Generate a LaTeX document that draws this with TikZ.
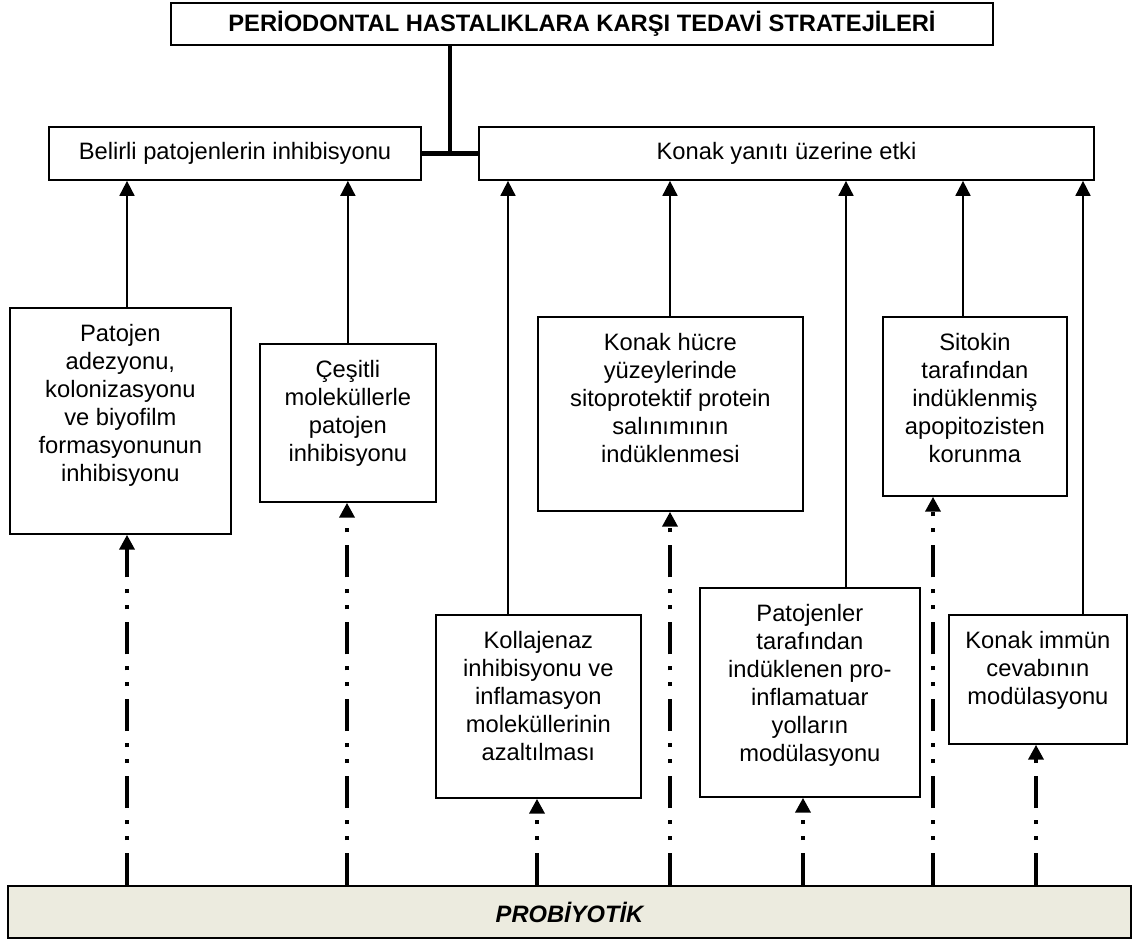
\documentclass[tikz,border=0pt]{standalone}
\usepackage{fontspec}
\setmainfont{Liberation Sans}
\usetikzlibrary{arrows.meta}
\newlength{\pxl}
\setlength{\pxl}{0.02cm}
\definecolor{probfill}{RGB}{236,235,223}
\newcommand{\celltext}[3]{\parbox[c][#2\pxl][t]{#1\pxl}{\centering\rule{0pt}{34\pxl}#3}}

\begin{document}
\begin{tikzpicture}[x=0.02cm, y=-0.02cm,
  block/.style={rectangle, draw, line width=1pt, inner sep=0pt, font=\fontsize{13.5}{15.9}\selectfont},
  cell/.style={block, anchor=north west},
  trunk/.style={line width=2.6pt},
  solidarrow/.style={line width=1pt, -{Triangle[width=8.5pt, length=8.5pt]}},
  probarrow/.style={line width=2.3pt, dash pattern=on 18.2pt off 7.4pt on 2.3pt off 6.8pt on 2.3pt off 6.8pt, -{Triangle[width=8.5pt, length=8.5pt]}}]
  \useasboundingbox (0,0) rectangle (1140,945);

  \node[block, minimum width=16.44cm, minimum height=0.84cm, font=\fontsize{13.5}{15.9}\selectfont\bfseries] (title) at (582,24) {PERİODONTAL HASTALIKLARA KARŞI TEDAVİ STRATEJİLERİ};
  \node[block, minimum width=7.44cm, minimum height=1.06cm] (belirli) at (235,153.5) {Belirli patojenlerin inhibisyonu};
  \node[block, minimum width=12.3cm, minimum height=1.06cm] (konak) at (786.5,153.5) {Konak yanıtı üzerine etki};

  \node[cell] (adezyon) at (9,307) {\celltext{221}{226}{Patojen\\ adezyonu,\\ kolonizasyonu\\ ve biyofilm\\ formasyonunun\\ inhibisyonu}};
  \node[cell] (molekul) at (259,343) {\celltext{176}{158}{Çeşitli\\ moleküllerle\\ patojen\\ inhibisyonu}};
  \node[cell] (sitoprot) at (537,316) {\celltext{265}{194}{Konak hücre\\ yüzeylerinde\\ sitoprotektif protein\\ salınımının\\ indüklenmesi}};
  \node[cell] (apopt) at (882,316) {\celltext{184}{179}{Sitokin\\ tarafından\\ indüklenmiş\\ apopitozisten\\ korunma}};
  \node[cell] (kollajen) at (435,614) {\celltext{205}{183}{Kollajenaz\\ inhibisyonu ve\\ inflamasyon\\ moleküllerinin\\ azaltılması}};
  \node[cell] (proinf) at (699,587) {\celltext{220}{209}{Patojenler\\ tarafından\\ indüklenen pro-\\ inflamatuar\\ yolların\\ modülasyonu}};
  \node[cell] (immun) at (948,614) {\celltext{178}{129}{Konak immün\\ cevabının\\ modülasyonu}};

  \node[block, fill=probfill, minimum width=22.46cm, minimum height=1.04cm, font=\fontsize{13.5}{15.9}\selectfont\bfseries\itshape] (probiyotik) at (569.5,912) {PROBİYOTİK};

  % main stem
  \coordinate (joint) at (450,153.5);
  \draw[trunk] (title.south -| joint) -- (joint);
  \draw[trunk] (belirli.east) -- (konak.west);

  % strategies up to their group
  \draw[solidarrow] (adezyon.north -| 127,0) -- (belirli.south -| 127,0);
  \draw[solidarrow] (molekul.north) -- (belirli.south -| molekul.north);
  \draw[solidarrow] (kollajen.north -| 508,0) -- (konak.south -| 508,0);
  \draw[solidarrow] (sitoprot.north -| 670,0) -- (konak.south -| 670,0);
  \draw[solidarrow] (proinf.north -| 846,0) -- (konak.south -| 846,0);
  \draw[solidarrow] (apopt.north -| 963,0) -- (konak.south -| 963,0);
  \draw[solidarrow] (immun.north -| 1083,0) -- (konak.south -| 1083,0);

  % probiyotik effects
  \draw[probarrow] (probiyotik.north -| 127,0) -- (adezyon.south -| 127,0);
  \draw[probarrow] (probiyotik.north -| 347,0) -- (molekul.south -| 347,0);
  \draw[probarrow] (probiyotik.north -| 537,0) -- (kollajen.south -| 537,0);
  \draw[probarrow] (probiyotik.north -| 670,0) -- (sitoprot.south -| 670,0);
  \draw[probarrow] (probiyotik.north -| 803,0) -- (proinf.south -| 803,0);
  \draw[probarrow] (probiyotik.north -| 933,0) -- (apopt.south -| 933,0);
  \draw[probarrow] (probiyotik.north -| 1036,0) -- (immun.south -| 1036,0);
\end{tikzpicture}
\end{document}
